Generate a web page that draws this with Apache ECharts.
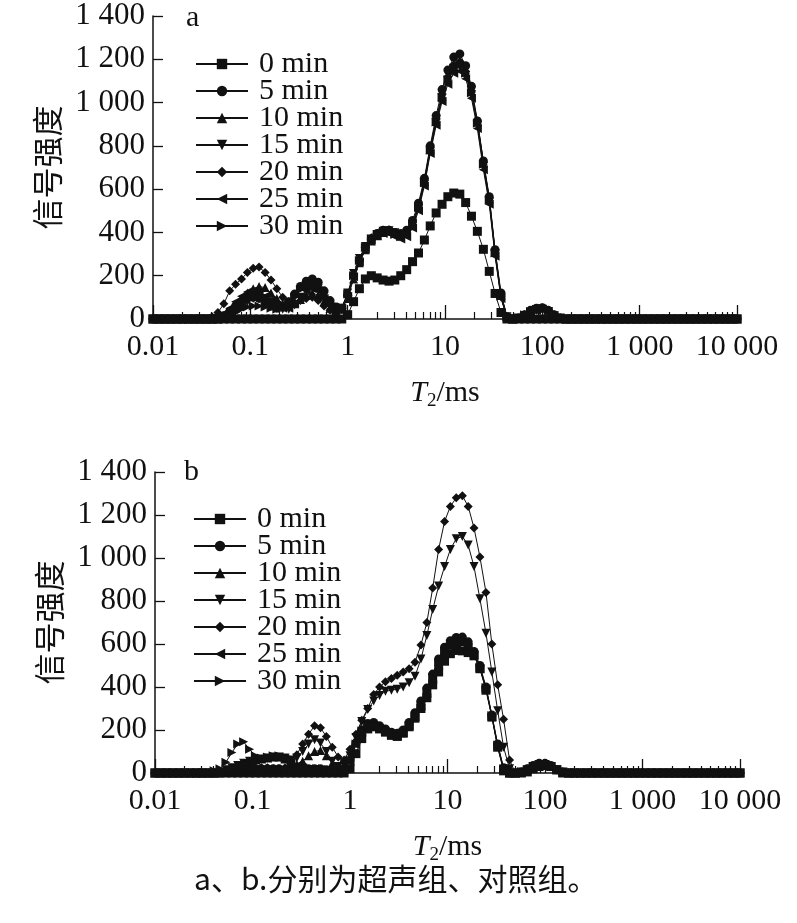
<!DOCTYPE html>
<html>
<head>
<meta charset="utf-8">
<title>T2 spectra</title>
<script src="https://cdn.jsdelivr.net/npm/echarts@6/dist/echarts.min.js"></script>
<style>
  html, body { margin: 0; padding: 0; background: #fff; }
  #chart { width: 797px; height: 923px; }
</style>
</head>
<body>
<div id="chart"></div>
<script>
// T2 grid (ms), log spaced, 100 points
const T2 = [
  0.01, 0.0115, 0.0132, 0.0152, 0.0175, 0.0201, 0.0231, 0.0266, 0.0305, 0.0351,
  0.0404, 0.0464, 0.0534, 0.0614, 0.0705, 0.0811, 0.0933, 0.107, 0.123, 0.142,
  0.163, 0.187, 0.215, 0.248, 0.285, 0.327, 0.376, 0.433, 0.498, 0.572,
  0.658, 0.756, 0.870, 1, 1.15, 1.32, 1.52, 1.75, 2.01, 2.31,
  2.66, 3.05, 3.51, 4.04, 4.64, 5.34, 6.14, 7.05, 8.11, 9.33,
  10.7, 12.3, 14.2, 16.3, 18.7, 21.5, 24.8, 28.5, 32.7, 37.6,
  43.3, 49.8, 57.2, 65.8, 75.6, 87.0, 100, 115, 132, 152,
  175, 201, 231, 266, 305, 351, 404, 464, 534, 614,
  705, 811, 933, 1072, 1233, 1417, 1630, 1874, 2154, 2477,
  2848, 3275, 3765, 4329, 4977, 5722, 6579, 7565, 8697, 10000
]

const NAMES = ['0 min', '5 min', '10 min', '15 min', '20 min', '25 min', '30 min']
const SYMBOLS = ['rect', 'circle', 'triangle', 'triangle', 'diamond', 'triangle', 'triangle']
const ROTATE = [0, 0, 0, 180, 0, 90, -90]

// a: ultrasound group
const A_0 = [
  0,0,0,0,0,0,0,0,0,0,
  0,0,0,0,0,0,0,0,0,0,
  0,0,0,0,0,0,0,0,0,0,
  0,0,0,20,80,140,185,200,190,180,
  175,180,200,228,265,305,365,430,490,530,
  565,582,577,538,475,405,322,220,118,30,
  0,0,0,0,0,0,0,0,0,0,
  0,0,0,0,0,0,0,0,0,0,
  0,0,0,0,0,0,0,0,0,0,
  0,0,0,0,0,0,0,0,0,0
]
const A_5 = [
  0,0,0,0,0,0,0,0,0,0,
  0,5,15,35,60,80,95,100,95,80,
  60,50,55,80,115,150,175,185,170,130,
  85,55,50,110,200,270,330,370,395,410,
  410,400,395,410,455,535,650,800,940,1060,
  1150,1210,1225,1170,1075,915,730,565,320,120,
  10,0,5,20,40,50,52,40,20,5,
  0,0,0,0,0,0,0,0,0,0,
  0,0,0,0,0,0,0,0,0,0,
  0,0,0,0,0,0,0,0,0,0
]
const A_10 = [
  0,0,0,0,0,0,0,0,0,0,
  0,0,10,30,60,90,120,140,150,145,
  120,95,70,60,70,90,110,120,110,80,
  50,35,45,95,185,260,320,360,385,400,
  405,395,385,395,440,520,635,785,915,1030,
  1110,1165,1180,1140,1050,910,720,555,310,110,
  10,0,5,20,35,45,50,40,20,5,
  0,0,0,0,0,0,0,0,0,0,
  0,0,0,0,0,0,0,0,0,0,
  0,0,0,0,0,0,0,0,0,0
]
const A_15 = [
  0,0,0,0,0,0,0,0,0,0,
  0,0,5,20,40,60,80,95,100,95,
  80,60,45,45,65,100,135,150,140,105,
  70,45,50,120,210,280,335,370,390,405,
  408,398,385,390,430,510,625,775,905,1020,
  1100,1150,1165,1125,1035,895,705,540,300,100,
  10,0,5,15,30,40,45,35,15,5,
  0,0,0,0,0,0,0,0,0,0,
  0,0,0,0,0,0,0,0,0,0,
  0,0,0,0,0,0,0,0,0,0
]
const A_20 = [
  0,0,0,0,0,0,0,0,0,0,
  10,30,70,130,160,185,215,235,240,215,
  180,140,100,80,75,85,95,100,85,60,
  40,30,45,110,205,275,335,375,395,410,
  412,400,390,400,445,525,640,790,925,1040,
  1120,1175,1190,1145,1055,915,725,560,315,115,
  10,0,5,20,35,45,52,40,20,5,
  0,0,0,0,0,0,0,0,0,0,
  0,0,0,0,0,0,0,0,0,0,
  0,0,0,0,0,0,0,0,0,0
]
const A_25 = [
  0,0,0,0,0,0,0,0,0,0,
  0,10,25,50,80,105,125,130,125,105,
  85,65,50,50,70,100,130,140,130,95,
  60,40,50,105,195,265,325,365,385,395,
  395,380,370,380,420,500,615,765,895,1005,
  1085,1135,1145,1110,1020,880,690,530,290,95,
  5,0,5,15,30,40,45,35,15,5,
  0,0,0,0,0,0,0,0,0,0,
  0,0,0,0,0,0,0,0,0,0,
  0,0,0,0,0,0,0,0,0,0
]
const A_30 = [
  0,0,0,0,0,0,0,0,0,0,
  0,0,5,15,30,45,55,60,60,55,
  50,45,50,70,100,135,155,160,145,110,
  70,45,55,115,200,270,330,370,390,400,
  400,390,380,390,435,515,630,780,910,1025,
  1105,1160,1175,1135,1045,905,715,550,305,105,
  10,0,5,20,35,45,50,40,20,5,
  0,0,0,0,0,0,0,0,0,0,
  0,0,0,0,0,0,0,0,0,0,
  0,0,0,0,0,0,0,0,0,0
]

// b: control group
const B_0 = [
  0,0,0,0,0,0,0,0,0,0,
  0,0,0,0,0,0,0,0,0,0,
  0,0,0,0,0,0,0,0,0,0,
  0,0,0,20,90,160,205,215,205,190,
  175,170,185,215,255,300,350,410,470,520,
  555,570,568,560,545,485,385,260,120,10,
  0,0,0,5,20,30,35,30,15,0,
  0,0,0,0,0,0,0,0,0,0,
  0,0,0,0,0,0,0,0,0,0,
  0,0,0,0,0,0,0,0,0,0
]
const B_5 = [
  0,0,0,0,0,0,0,0,0,0,
  0,0,5,10,15,20,20,20,20,20,
  20,20,15,15,15,20,20,20,20,15,
  10,10,20,60,140,200,230,235,220,205,
  190,185,200,235,280,335,395,460,530,585,
  615,630,632,610,565,500,400,270,135,25,
  0,0,5,20,35,45,45,35,15,5,
  0,0,0,0,0,0,0,0,0,0,
  0,0,0,0,0,0,0,0,0,0,
  0,0,0,0,0,0,0,0,0,0
]
const B_10 = [
  0,0,0,0,0,0,0,0,0,0,
  0,5,15,25,35,45,55,60,65,70,
  75,75,65,50,40,55,80,100,105,80,
  45,25,30,70,150,205,225,225,210,195,
  180,175,190,225,265,315,375,440,505,560,
  595,610,612,590,555,490,395,265,125,20,
  0,0,5,15,30,40,40,30,15,5,
  0,0,0,0,0,0,0,0,0,0,
  0,0,0,0,0,0,0,0,0,0,
  0,0,0,0,0,0,0,0,0,0
]
const B_15 = [
  0,0,0,0,0,0,0,0,0,0,
  0,5,15,25,35,45,55,60,65,70,
  75,75,70,60,70,100,135,155,140,100,
  55,30,35,80,165,240,295,335,360,380,
  385,390,400,420,450,530,640,760,870,960,
  1040,1090,1100,1060,960,810,650,470,290,120,
  20,0,5,15,30,40,40,30,15,5,
  0,0,0,0,0,0,0,0,0,0,
  0,0,0,0,0,0,0,0,0,0,
  0,0,0,0,0,0,0,0,0,0
]
const B_20 = [
  0,0,0,0,0,0,0,0,0,0,
  0,5,10,15,20,25,25,25,25,25,
  20,20,25,45,85,135,180,220,210,170,
  120,75,60,110,180,245,300,365,400,425,
  440,455,470,485,515,595,700,860,1040,1170,
  1240,1280,1290,1240,1140,1005,840,600,410,250,
  60,0,5,20,35,45,45,35,15,5,
  0,0,0,0,0,0,0,0,0,0,
  0,0,0,0,0,0,0,0,0,0,
  0,0,0,0,0,0,0,0,0,0
]
const B_25 = [
  0,0,0,0,0,0,0,0,0,0,
  0,5,15,25,35,45,55,60,65,70,
  75,75,65,50,35,25,20,20,15,10,
  5,5,15,55,130,190,215,220,205,190,
  178,172,188,220,262,310,370,435,500,555,
  590,605,608,585,550,485,392,262,122,15,
  0,0,5,15,30,35,40,30,15,5,
  0,0,0,0,0,0,0,0,0,0,
  0,0,0,0,0,0,0,0,0,0,
  0,0,0,0,0,0,0,0,0,0
]
const B_30 = [
  0,0,0,0,0,0,0,0,0,0,
  10,20,50,95,135,145,110,80,70,75,
  80,80,70,50,30,20,15,15,10,10,
  5,5,15,60,135,195,220,225,210,195,
  180,175,190,222,265,318,378,445,512,568,
  600,618,620,598,560,492,398,268,130,20,
  0,0,5,15,30,40,42,32,15,5,
  0,0,0,0,0,0,0,0,0,0,
  0,0,0,0,0,0,0,0,0,0,
  0,0,0,0,0,0,0,0,0,0
]

const PANEL_A = [A_0, A_5, A_10, A_15, A_20, A_25, A_30]
const PANEL_B = [B_0, B_5, B_10, B_15, B_20, B_25, B_30]

const X_MAJOR = [0.01, 0.1, 1, 10, 100, 1000, 10000]
const X_MINOR_MULT = [2, 3, 4, 5, 6, 7, 8, 9]

const INK = '#111'
const SERIF = '"Liberation Serif", "Times New Roman", serif'
const CJK = '"Noto Sans CJK SC", sans-serif'

let xMinor = []
X_MAJOR.slice(0, -1).forEach(d => X_MINOR_MULT.forEach(m => xMinor.push(m * d)))

function spaced(v) {
  let n = Number(Number(v).toPrecision(6))
  if (n >= 1000) return String(n).replace(/\B(?=(\d{3})+(?!\d))/g, ' ')
  return String(n)
}

let grids = [
  { left: 153, top: 16, width: 584, height: 303 },
  { left: 155, top: 472, width: 585, height: 301 }
]

let xAxes = []
let yAxes = []
grids.forEach((g, gi) => {
  xAxes.push({
    type: 'log', logBase: 10, min: 0.01, max: 10000, gridIndex: gi,
    position: 'bottom',
    name: '{t|T}{s|2}{n|/ms}', nameLocation: 'middle', nameGap: 57,
    nameTextStyle: {
      rich: {
        t: { fontFamily: SERIF, fontSize: 30, fontStyle: 'italic', color: INK },
        s: { fontFamily: SERIF, fontSize: 19, color: INK, padding: [16, 0, 0, 0] },
        n: { fontFamily: SERIF, fontSize: 30, color: INK }
      }
    },
    axisLine: { lineStyle: { color: INK, width: 1.5 } },
    axisTick: { inside: true, length: 14, customValues: X_MAJOR, lineStyle: { color: INK, width: 1.3 } },
    axisLabel: {
      customValues: X_MAJOR, formatter: spaced, margin: 13,
      fontFamily: SERIF, fontSize: 30, color: INK
    },
    splitLine: { show: false }
  })
  // minor ticks 2..9 of every decade
  xAxes.push({
    type: 'log', logBase: 10, min: 0.01, max: 10000, gridIndex: gi,
    position: 'bottom',
    axisLine: { show: false },
    axisTick: { inside: true, length: 7, customValues: xMinor, lineStyle: { color: INK, width: 1.2 } },
    axisLabel: { show: false },
    splitLine: { show: false }
  })
  yAxes.push({
    type: 'value', min: 0, max: 1400, interval: 200, gridIndex: gi,
    name: '信号强度', nameLocation: 'middle', nameRotate: 90, nameGap: 90,
    nameTextStyle: { fontFamily: CJK, fontSize: 31, color: INK },
    axisLine: { show: true, lineStyle: { color: INK, width: 1.5 } },
    axisTick: { show: true, inside: true, length: 10, lineStyle: { color: INK, width: 1.3 } },
    axisLabel: { formatter: spaced, margin: 8, fontFamily: SERIF, fontSize: 31, color: INK },
    splitLine: { show: false }
  })
})

let series = []
;[PANEL_A, PANEL_B].forEach((panel, gi) => {
  panel.forEach((vals, k) => {
    series.push({
      name: NAMES[k],
      type: 'line',
      xAxisIndex: gi * 2,
      yAxisIndex: gi,
      data: T2.map((t, i) => [t, vals[i]]),
      symbol: SYMBOLS[k],
      symbolRotate: ROTATE[k],
      symbolSize: 9,
      showAllSymbol: true,
      lineStyle: { color: INK, width: 1 },
      itemStyle: { color: INK },
      emphasis: { disabled: true }
    })
  })
})

let legendBase = {
  orient: 'vertical', selectedMode: false,
  itemWidth: 52, itemHeight: 13, itemGap: -3,
  data: NAMES,
  textStyle: { fontFamily: SERIF, fontSize: 30, color: INK, padding: [0, 0, 0, 6] }
}

let option = {
  animation: false,
  backgroundColor: '#fff',
  grid: grids,
  xAxis: xAxes,
  yAxis: yAxes,
  legend: [
    Object.assign({ left: 190, top: 44 }, legendBase),
    Object.assign({ left: 188, top: 499 }, legendBase)
  ],
  graphic: [
    { type: 'text', left: 186, top: 3, style: { text: 'a', font: '30px ' + SERIF, fill: INK } },
    { type: 'text', left: 184, top: 457, style: { text: 'b', font: '30px ' + SERIF, fill: INK } },
    { type: 'text', left: 194, top: 864,
      style: { text: 'a、b.分别为超声组、对照组。', font: '30px ' + CJK, fill: INK } }
  ],
  series: series
}

let chart = echarts.init(document.getElementById('chart'))
chart.setOption(option)
</script>
</body>
</html>
